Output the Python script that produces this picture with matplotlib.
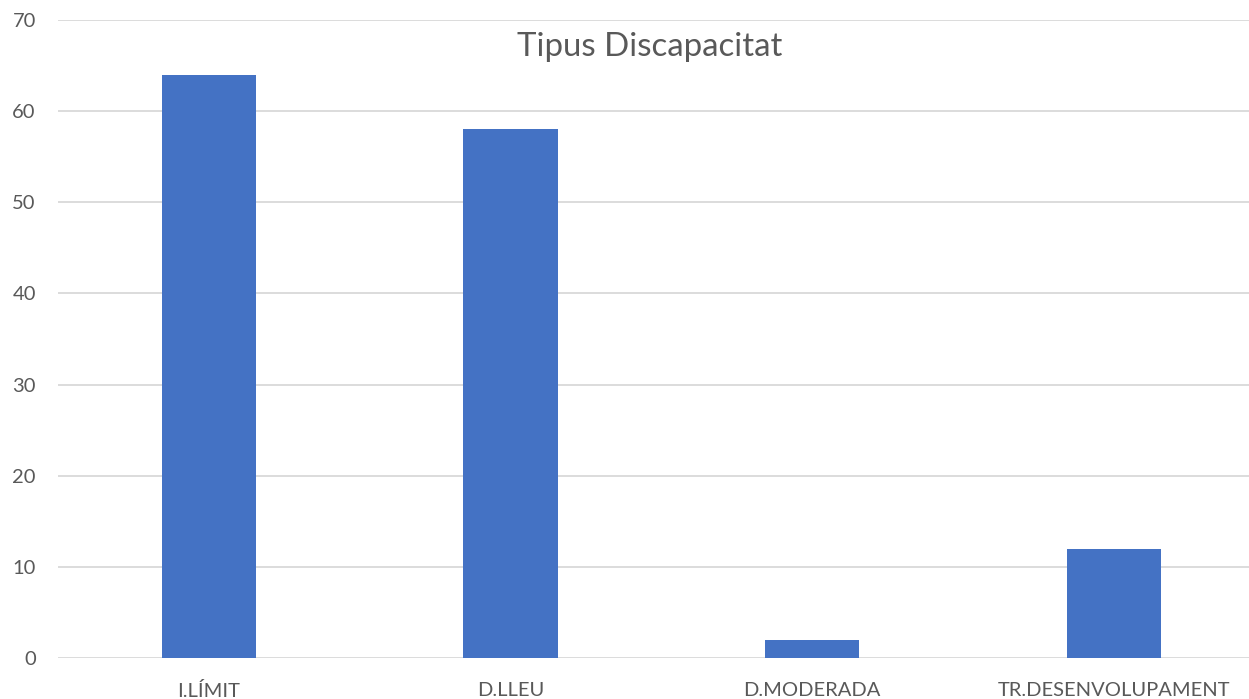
import numpy as np
import matplotlib.pyplot as plt

# dades
categories = ['I.LÍMIT', 'D.LLEU', 'D.MODERADA', 'TR.DESENVOLUPAMENT']
valors = [64, 58, 2, 12]
y_ticks = [0, 10, 20, 30, 40, 50, 60, 70]

plt.rcParams['font.family'] = ['Lato', 'DejaVu Sans']
text_color = '#595959'

fig = plt.figure(figsize=(12.49, 6.99), dpi=100)
ax = fig.add_axes([58 / 1249, 41 / 699, 1 - 58 / 1249, 638 / 699])

x = np.arange(len(categories))
ax.bar(x, valors, width=0.312, color='#4472C4', zorder=3)

ax.set_xlim(-0.5, 3.448)
ax.set_ylim(0, 70)
ax.set_yticks(y_ticks)
ax.set_xticks(x)
ax.set_xticklabels(categories)

ax.grid(axis='y', color='#D9D9D9', linewidth=1.3, zorder=0)
ax.set_axisbelow(True)
for s in ax.spines.values():
    s.set_visible(False)
ax.tick_params(axis='both', length=0, colors=text_color, labelsize=14.5)
ax.tick_params(axis='y', pad=16)
ax.tick_params(axis='x', pad=17)

fig.text(0.52, 1 - 47 / 699, 'Tipus Discapacitat', ha='center', va='center',
         fontsize=23.8, color=text_color)

fig.savefig('out.png', dpi=100)
